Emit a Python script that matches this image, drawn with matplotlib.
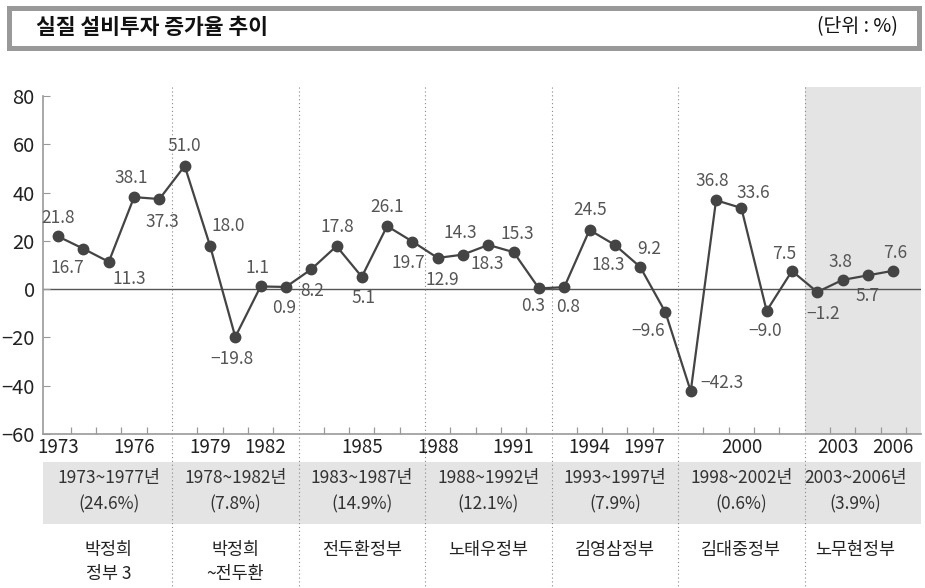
import matplotlib
matplotlib.use('Agg')
from matplotlib import pyplot as plt
from matplotlib import transforms
from matplotlib.patches import Rectangle

plt.rcParams['font.family'] = ['Noto Sans CJK KR', 'DejaVu Sans']

# 데이터
years = list(range(1973, 2007))
values = [21.8, 16.7, 11.3, 38.1, 37.3, 51.0, 18.0, -19.8, 1.1, 0.9,
          8.2, 17.8, 5.1, 26.1, 19.7, 12.9, 14.3, 18.3, 15.3, 0.3,
          0.8, 24.5, 18.3, 9.2, -9.6, -42.3, 36.8, 33.6, -9.0, 7.5,
          -1.2, 3.8, 5.7, 7.6]
tick_years = [1973, 1976, 1979, 1982, 1985, 1988, 1991, 1994, 1997, 2000, 2003, 2006]
era_start = [1973, 1978, 1983, 1988, 1993, 1998, 2003]
era_end = [1977, 1982, 1987, 1992, 1997, 2002, 2006]
era_avg = ['24.6', '7.8', '14.9', '12.1', '7.9', '0.6', '3.9']
governments = ['박정희\n정부 3', '박정희\n~전두환', '전두환정부', '노태우정부',
               '김영삼정부', '김대중정부', '노무현정부']

# 라벨 위치 (픽셀 오프셋)
label_offsets = [(0, 18), (-16, -19), (21, -17), (-3, 19), (3, -23), (0, 20), (18, 20),
                 (-3, -22), (-3, 18), (-2, -21), (1, -22), (1, 19), (2, -21), (0, 19),
                 (-4, -21), (5, -22), (-3, 22), (-1, -19), (4, 18), (-6, -18), (4, -20),
                 (1, 20), (-7, -20), (9, 18), (-17, -19), (31, 8), (-4, 19), (12, 15),
                 (-2, -20), (-8, 17), (6, -22), (-2, 18), (0, -21), (2, 18)]

W, H = 925, 588
fig = plt.figure(figsize=(W / 100, H / 100), dpi=100)
x0, x1 = 1972.4, 2007.1
ax = fig.add_axes([43 / W, 1 - 434 / H, 878 / W, (434 - 87) / H])
ax.set_xlim(x0, x1)
ax.set_ylim(-60, 83.7)

# 노무현정부 음영
ax.axvspan(era_start[-1] - 0.5, x1, color='#e4e4e4', lw=0, zorder=0)
ax.axhline(0, color='#555555', lw=1, zorder=1)

# 선 그래프
ax.plot(years, values, color='#444444', lw=1.6, marker='o', markersize=7.5,
        markerfacecolor='#444444', markeredgecolor='#444444', zorder=3)

for x, v, (dx, dy) in zip(years, values, label_offsets):
    ax.annotate(f'{v:.1f}'.replace('-', '\u2212'), (x, v), xytext=(dx, dy),
                textcoords='offset pixels', ha='center', va='center',
                fontsize=12.5, color='#555555', zorder=4)

# 축 설정
for s in ['top', 'right']:
    ax.spines[s].set_visible(False)
for s in ['left', 'bottom']:
    ax.spines[s].set_color('#999999')
    ax.spines[s].set_linewidth(1.2)
ax.spines['left'].set_bounds(-60, 80)
ax.set_yticks(range(-60, 81, 20))
ax.tick_params(axis='y', direction='in', length=5, color='#999999', labelsize=14.5,
               labelcolor='#222222', pad=6)
ax.set_xticks(tick_years)
ax.set_xticklabels([str(y) for y in tick_years])
ax.tick_params(axis='x', which='major', length=0, labelsize=13.5, labelcolor='#222222', pad=2)
minor = [y + 0.5 for y in years if (y + 0.5) not in [s - 0.5 for s in era_start]]
ax.set_xticks(minor, minor=True)
ax.tick_params(axis='x', which='minor', direction='in', length=5, color='#999999', width=0.9)
# 구분선과 겹치지 않도록 조금 옮김
for lbl in ax.get_xticklabels():
    if lbl.get_text() in ('1982', '1997'):
        lbl.set_ha('right')
    elif lbl.get_text() == '2003':
        lbl.set_ha('left')

# 아래 표
bt = transforms.blended_transform_factory(ax.transData, fig.transFigure)
ax.add_patch(Rectangle((x0, 1 - 524 / H), x1 - x0, 62 / H, transform=bt,
                       color='#e4e4e4', lw=0, clip_on=False, zorder=0))
for i in range(len(era_start)):
    if i > 0:
        sx = era_start[i] - 0.5
        ax.plot([sx, sx], [1 - 87 / H, 0], transform=bt, clip_on=False,
                color='#888888', lw=0.8, ls=(0, (1, 2.5)), zorder=2)
    left = era_start[i] - 0.5
    right = min(era_end[i] + 0.5, x1)
    cx = (left + right) / 2
    ax.text(cx, 1 - 491.5 / H, f'{era_start[i]}~{era_end[i]}년\n({era_avg[i]}%)',
            transform=bt, ha='center', va='center', fontsize=12.5, color='#333333',
            linespacing=1.55)
    ax.text(cx, 1 - 541 / H, governments[i], transform=bt, ha='center', va='top',
            fontsize=12.5, color='#222222', linespacing=1.45)

# 제목 상자
fig.patches.append(Rectangle((8.5 / W, 1 - 48 / H), 910 / W, 40.5 / H, fill=False,
                             edgecolor='#999999', lw=3.6, transform=fig.transFigure))
fig.text(36 / W, 1 - 27 / H, '실질 설비투자 증가율 추이', fontsize=15.5, fontweight='bold',
         ha='left', va='center', color='#111111')
fig.text(898 / W, 1 - 27 / H, '(단위 : %)', fontsize=14, ha='right', va='center',
         color='#111111')

plt.savefig('out.png', dpi=100)
